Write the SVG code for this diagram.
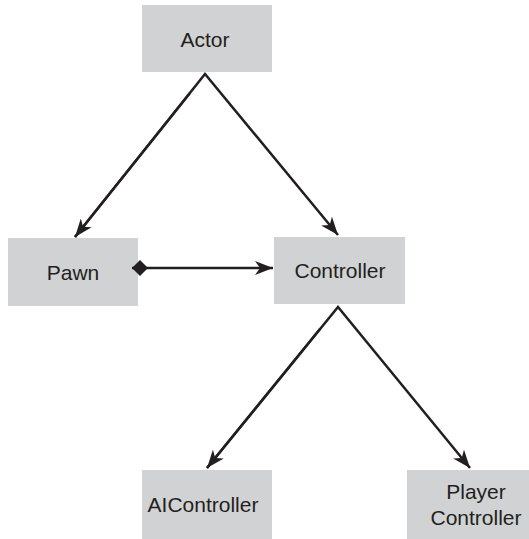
<svg xmlns="http://www.w3.org/2000/svg" width="529" height="539" viewBox="0 0 529 539">
  <style>
    .box { fill: #d1d2d4; }
    .lbl { font-family: "Liberation Sans", Arial, sans-serif; font-size: 21px; fill: #231f20; text-anchor: middle; }
    .edge { stroke: #231f20; stroke-width: 2.5; fill: none; }
  </style>
  <defs>
    <marker id="arrow" viewBox="0 0 18 14" refX="18" refY="7" markerWidth="18" markerHeight="14" markerUnits="userSpaceOnUse" orient="auto">
      <path d="M0,0 L18,7 L0,14 L5,7 z" fill="#231f20"/>
    </marker>
    <marker id="diamond" viewBox="0 0 16 16" refX="0" refY="8" markerWidth="16" markerHeight="16" markerUnits="userSpaceOnUse" orient="auto">
      <path d="M0,8 L8,0 L16,8 L8,16 z" fill="#231f20"/>
    </marker>
  </defs>
  <rect width="529" height="539" fill="#ffffff"/>
  <g id="actor">
    <rect class="box" x="142" y="5" width="130" height="67"/>
    <text class="lbl" x="205" y="47">Actor</text>
  </g>
  <g id="pawn">
    <rect class="box" x="8" y="238" width="130" height="68"/>
    <text class="lbl" x="73" y="280">Pawn</text>
  </g>
  <g id="controller">
    <rect class="box" x="274" y="237" width="131" height="67"/>
    <text class="lbl" x="340" y="278">Controller</text>
  </g>
  <g id="aicontroller">
    <rect class="box" x="142" y="470" width="130" height="69"/>
    <text class="lbl" x="203" y="512">AIController</text>
  </g>
  <g id="playercontroller">
    <rect class="box" x="407" y="470" width="122" height="69"/>
    <text class="lbl" x="476" y="499">Player</text>
    <text class="lbl" x="476" y="525">Controller</text>
  </g>
  <g id="connectors">
    <polyline class="edge" points="75,237 205,74 338,235" stroke-linejoin="miter" marker-end="url(#arrow)"/>
    <line class="edge" x1="190" y1="93" x2="75" y2="237" marker-end="url(#arrow)"/>
    <line class="edge" x1="132" y1="268" x2="273" y2="268" marker-start="url(#diamond)" marker-end="url(#arrow)"/>
    <polyline class="edge" points="207,468 338,307 470,468" stroke-linejoin="miter" marker-end="url(#arrow)"/>
    <line class="edge" x1="320" y1="329" x2="207" y2="468" marker-end="url(#arrow)"/>
  </g>
</svg>
